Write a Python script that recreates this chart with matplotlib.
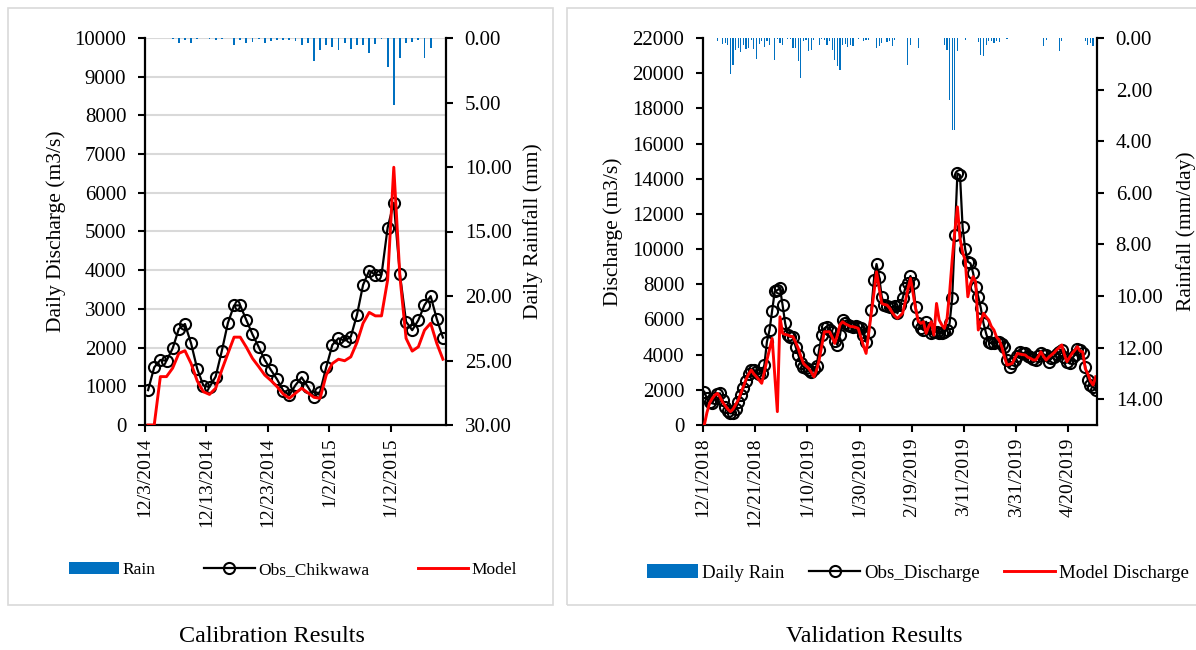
import numpy as np
import matplotlib
matplotlib.use('Agg')
import matplotlib.pyplot as plt
from matplotlib.patches import Rectangle

plt.rcParams['font.family'] = ['Liberation Serif', 'DejaVu Serif']

# ---- calibration data (daily, 12/3/2014 onwards) ----
cal_labels = ['12/3/2014', '12/13/2014', '12/23/2014', '1/2/2015', '1/12/2015']
cal_obs = [900, 1490, 1680, 1660, 1980, 2480, 2610, 2110, 1450, 1020,
           980, 1250, 1910, 2640, 3090, 3090, 2710, 2340, 2020, 1680,
           1420, 1180, 890, 775, 1030, 1230, 990, 730, 860, 1490,
           2070, 2240, 2180, 2280, 2840, 3620, 3990, 3880, 3880, 5100,
           5740, 3890, 2670, 2450, 2710, 3100, 3330, 2740, 2260]
cal_model = [0, 0, 1250, 1250, 1470, 1850, 1920, 1590, 1140, 860,
             790, 950, 1420, 1850, 2270, 2270, 2010, 1720, 1510, 1290,
             1150, 990, 800, 690, 820, 950, 835, 715, 690, 1290,
             1590, 1700, 1660, 1760, 2130, 2630, 2910, 2820, 2820, 3750,
             6660, 3830, 2240, 1910, 2020, 2450, 2630, 2110, 1700]
cal_rain = [0, 0, 0, 0, 0.05, 0.36, 0.15, 0.36, 0.1, 0,
            0.1, 0.15, 0.1, 0, 0.55, 0.15, 0.4, 0.3, 0.1, 0.35,
            0.2, 0.15, 0.15, 0.15, 0.25, 0.55, 0.4, 1.76, 0.93, 0.55,
            0.7, 0.93, 0.36, 0.85, 0.55, 0.55, 1.19, 0.45, 0.05, 2.27,
            5.19, 1.57, 0.36, 0.3, 0.15, 1.57, 0.75, 0, 0]

# ---- validation data (daily, 12/1/2018 - 4/30/2019) ----
val_labels = ['12/1/2018', '12/21/2018', '1/10/2019', '1/30/2019',
              '2/19/2019', '3/11/2019', '3/31/2019', '4/20/2019']
val_obs = [1890, 1510, 1300, 1230, 1530, 1750, 1800, 1420, 1000, 800,
           660, 700, 900, 1300, 1700, 2100, 2500, 2900, 3100, 3125,
           3000, 2900, 2950, 3400, 4730, 5400, 6480, 7600, 7670, 7770,
           6820, 5780, 5110, 5000, 5020, 4450, 4000, 3500, 3300, 3220,
           3100, 3030, 3200, 3350, 4260, 5110, 5500, 5590, 5400, 5300,
           4800, 4550, 5110, 5970, 5800, 5680, 5600, 5590, 5600, 5590,
           5500, 5110, 4730, 5300, 6530, 8240, 9150, 8430, 7290, 6820,
           6750, 6720, 6700, 6760, 6350, 6800, 7200, 7770, 8100, 8470,
           8050, 6720, 5780, 5500, 5400, 5870, 5500, 5210, 5300, 5300,
           5250, 5210, 5300, 5400, 5780, 7200, 10800, 14300, 14200, 11230,
           9980, 9280, 9190, 8650, 7860, 7290, 6630, 5780, 5210, 4730,
           4640, 4640, 4700, 4730, 4600, 4450, 3690, 3310, 3500, 3690,
           3950, 4160, 4100, 4070, 3950, 3880, 3750, 3690, 3900, 4070,
           4000, 3980, 3600, 3800, 3880, 4030, 4150, 4260, 3880, 3600,
           3500, 3800, 3980, 4300, 4250, 4070, 3310, 2560, 2300, 2180,
           1990]
val_model = [0, 700, 1230, 1500, 1700, 1800, 1600, 1300, 1100, 900,
             760, 900, 1150, 1420, 1800, 2200, 2600, 2900, 3125, 2900,
             2740, 2550, 2370, 3000, 3690, 4300, 4920, 2840, 760, 6150,
             5210, 5150, 5110, 5050, 5020, 4700, 4360, 3900, 3500, 3350,
             3220, 3000, 2740, 3100, 3690, 4500, 5300, 5300, 5300, 5000,
             4640, 5100, 5700, 5870, 5750, 5680, 5600, 5590, 5550, 5490,
             5000, 4500, 4070, 5200, 6350, 7500, 8710, 7800, 6910, 6850,
             6820, 6650, 6400, 6200, 6060, 6200, 6350, 7000, 7700, 8330,
             7500, 6600, 5900, 5780, 5870, 5210, 5600, 5870, 5110, 6910,
             5970, 5700, 5490, 6000, 7500, 9380, 11000, 12400, 10610, 9800,
             9380, 7290, 8000, 8430, 8140, 5400, 5900, 6350, 6150, 5970,
             5600, 5400, 5000, 4830, 4450, 3900, 3410, 3450, 3500, 3800,
             4070, 4030, 4000, 3980, 3850, 3790, 3700, 3690, 3900, 4160,
             3900, 3690, 3850, 3980, 4100, 4260, 4400, 4550, 4000, 3600,
             3850, 4070, 4250, 4450, 4200, 4160, 3220, 2900, 2500, 2270,
             2740]
val_rain = [0, 0, 0, 0, 0, 0.13, 0, 0.22, 0.19, 0.26,
            1.40, 1.03, 0.45, 0.39, 0.56, 0.26, 0.43, 0.39, 0.06, 0.43,
            0.81, 0.22, 0.13, 0.35, 0.13, 0.26, 0, 0.87, 0.04, 0.19,
            0.26, 0, 0.04, 0.04, 0.39, 0.39, 0.90, 1.55, 0.13, 0.06,
            0.52, 0.48, 0.09, 0, 0.26, 0.04, 0.06, 0.26, 0.13, 0.45,
            0.87, 1.10, 1.25, 0.26, 0.22, 0.35, 0.26, 0.32, 0, 0.04,
            0, 0.13, 0.09, 0.06, 0, 0, 0.39, 0.30, 0.19, 0,
            0.17, 0.13, 0.30, 0.06, 0, 0, 0, 0, 1.03, 0.26,
            0, 0, 0.39, 0, 0, 0, 0, 0, 0, 0,
            0, 0, 0.26, 0.48, 2.39, 3.55, 3.55, 0.52, 0, 0,
            0.09, 0, 0, 0, 0, 0.17, 0.65, 0.71, 0.26, 0.13,
            0.13, 0.19, 0.13, 0.17, 0, 0, 0.04, 0, 0, 0,
            0, 0, 0, 0, 0, 0, 0, 0, 0, 0,
            0.32, 0.09, 0, 0, 0, 0, 0.52, 0.13, 0, 0,
            0, 0, 0, 0, 0, 0, 0.13, 0.26, 0.19, 0.30,
            0]

BLUE = '#0070C0'
W, H = 1196, 650
fig = plt.figure(figsize=(W / 100, H / 100), dpi=100)

# panel frames
for x0, x1 in [(8, 553), (567, 1200)]:
    fig.patches.append(Rectangle((x0 / W, 1 - 605 / H), (x1 - x0) / W, 597 / H,
                                 transform=fig.transFigure, fill=False,
                                 edgecolor='#d9d9d9', lw=1.2))


def panel(left, right, obs, model, rain, labels, step, ymax, ystep, rmax, rstep,
          ylab, rlab, names, grid, bw, lpad, rpad):
    n = len(obs)
    ax = fig.add_axes([left / W, 1 - 425 / H, (right - left) / W, 387 / H])
    x = np.arange(n) + 0.5
    ax.plot(x, obs, color='black', lw=1.6, marker='o', ms=8, mfc='none',
            mec='black', mew=1.5, label=names[1], zorder=3)
    ax.plot(x, model, color='red', lw=2.1, label=names[2], zorder=4)
    ax.set_xlim(0, n)
    ax.set_ylim(0, ymax)
    ax.set_yticks(np.arange(0, ymax + 1, ystep))
    ax.set_xticks(np.arange(0, n, step))
    ax.set_xticklabels(labels, rotation=90)
    ax.set_ylabel(ylab, fontsize=15.5, labelpad=lpad)
    if grid:
        ax.yaxis.grid(True, color='#d9d9d9', lw=1.5)
        ax.set_axisbelow(True)
    ax2 = ax.twinx()
    ax2.bar(x, rain, width=bw, color=BLUE, label=names[0])
    ax2.set_ylim(rmax, 0)
    ax2.set_yticks(np.arange(0, rmax + 0.01, rstep))
    ax2.set_yticklabels(['%.2f' % v for v in np.arange(0, rmax + 0.01, rstep)])
    ax2.set_ylabel(rlab, fontsize=15.5, labelpad=rpad)
    for a in (ax, ax2):
        a.spines['top'].set_visible(False)
        for s in ('left', 'right', 'bottom'):
            a.spines[s].set_linewidth(1.6)
        a.tick_params(axis='y', labelsize=15, width=1.5, length=5, pad=8.5,
                      direction='out')
    ax.tick_params(axis='x', labelsize=14, width=1.5, length=5, pad=4,
                   direction='out')
    ax.spines['right'].set_visible(False)
    ax2.spines['left'].set_visible(False)
    ax2.spines['bottom'].set_visible(False)
    h1, l1 = ax.get_legend_handles_labels()
    h2, l2 = ax2.get_legend_handles_labels()
    return ax, h2 + h1, l2 + l1


ax, h, l = panel(145, 446, cal_obs, cal_model, cal_rain, cal_labels, 10,
                 10000, 1000, 30, 5, 'Daily Discharge (m3/s)', 'Daily Rainfall (mm)',
                 ['Rain', 'Obs_Chikwawa', 'Model'], True, 0.3, 6, 8)
fig.legend(h, l, loc='center', bbox_to_anchor=(293 / W, 1 - 570 / H), ncol=3,
           frameon=False, fontsize=12.5, handlelength=2.9, columnspacing=2.8,
           handletextpad=0.2)

ax, h, l = panel(703, 1097, val_obs, val_model, val_rain, val_labels, 20,
                 22000, 2000, 15, 2, 'Discharge (m3/s)', 'Rainfall (mm/day)',
                 ['Daily Rain', 'Obs_Discharge', 'Model Discharge'], False, 0.45, 7, 10)
fig.legend(h, l, loc='center', bbox_to_anchor=(918 / W, 1 - 573 / H), ncol=3,
           frameon=False, fontsize=13.6, handlelength=2.7, columnspacing=1.3,
           handletextpad=0.2)

fig.text(272 / W, 1 - 637 / H, 'Calibration Results', ha='center', va='center', fontsize=17.4)
fig.text(874 / W, 1 - 637 / H, 'Validation Results', ha='center', va='center', fontsize=17.4)

fig.savefig('out.png', dpi=100)
